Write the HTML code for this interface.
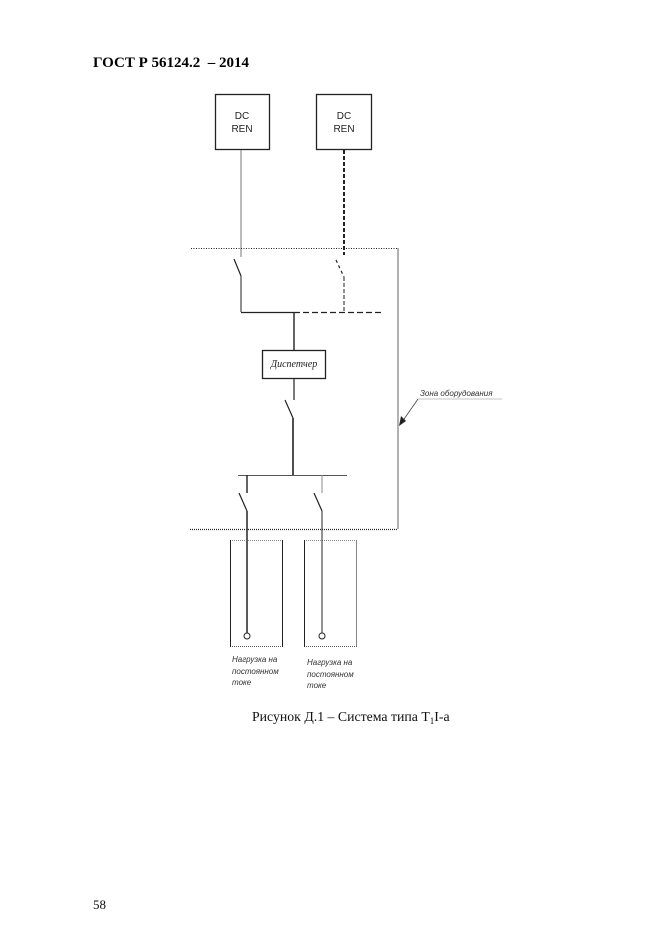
<!DOCTYPE html>
<html><head><meta charset="utf-8"><style>
html,body{margin:0;padding:0;background:#fff;}
svg{display:block;}
</style></head><body>
<svg width="661" height="936" viewBox="0 0 661 936" xmlns="http://www.w3.org/2000/svg" font-family="Liberation Sans, sans-serif">
<text x="93" y="67" font-family="Liberation Serif, serif" font-weight="bold" font-size="15">ГОСТ Р 56124.2&#160; – 2014</text>
<g fill="none" stroke="#222">
<rect x="215.5" y="94.5" width="54" height="55" stroke-width="1.3"/>
<rect x="316.5" y="94.5" width="55" height="55" stroke-width="1.3"/>
<line x1="241" y1="150" x2="241" y2="257" stroke="#777" stroke-width="1"/>
<line x1="344" y1="150" x2="344" y2="255" stroke-width="2" stroke-dasharray="4,2"/>
<line x1="191" y1="248.5" x2="398" y2="248.5" stroke-width="1" stroke-dasharray="1,1.5"/>
<line x1="398" y1="248" x2="398" y2="529" stroke="#666" stroke-width="1"/>
<line x1="234" y1="259" x2="241" y2="276" stroke-width="1.2"/>
<line x1="241" y1="276" x2="241" y2="312" stroke-width="1"/>
<line x1="336" y1="260" x2="344" y2="277" stroke-width="1.2" stroke-dasharray="3,3"/>
<line x1="344" y1="277" x2="344" y2="312" stroke-width="1" stroke-dasharray="4,2"/>
<line x1="241" y1="312.5" x2="294" y2="312.5" stroke-width="1.2"/>
<line x1="294" y1="312.5" x2="383" y2="312.5" stroke-width="1.2" stroke-dasharray="6,3"/>
<line x1="294" y1="312" x2="294" y2="350" stroke-width="1.4"/>
<rect x="262.5" y="350.5" width="63" height="28" stroke-width="1.3"/>
<line x1="294" y1="378" x2="294" y2="400" stroke-width="1.2"/>
<line x1="285" y1="400" x2="293" y2="418" stroke-width="1.2"/>
<line x1="293" y1="418" x2="293" y2="475" stroke-width="1.6"/>
<line x1="238" y1="475.5" x2="347" y2="475.5" stroke="#555" stroke-width="1"/>
<line x1="247" y1="475" x2="247" y2="493" stroke-width="1.4"/>
<line x1="239" y1="493" x2="247" y2="511" stroke-width="1.2"/>
<line x1="247" y1="511" x2="247" y2="633" stroke-width="1.5"/>
<line x1="322" y1="475" x2="322" y2="493" stroke="#888" stroke-width="1"/>
<line x1="314" y1="493" x2="322" y2="511" stroke-width="1.2"/>
<line x1="322" y1="511" x2="322" y2="633" stroke="#777" stroke-width="1.6"/>
<line x1="190" y1="529.5" x2="398" y2="529.5" stroke-width="1.2" stroke-dasharray="1,1"/>
<line x1="230" y1="540.5" x2="283" y2="540.5" stroke="#666" stroke-width="0.8" stroke-dasharray="1,1"/>
<line x1="230" y1="646.5" x2="283" y2="646.5" stroke-width="0.8" stroke-dasharray="1,1"/>
<line x1="230.5" y1="540" x2="230.5" y2="647" stroke-width="1"/>
<line x1="282.5" y1="540" x2="282.5" y2="647" stroke-width="1"/>
<line x1="304" y1="540.5" x2="357" y2="540.5" stroke="#666" stroke-width="0.8" stroke-dasharray="1,1"/>
<line x1="304" y1="646.5" x2="357" y2="646.5" stroke-width="0.8" stroke-dasharray="1,1"/>
<line x1="304.5" y1="540" x2="304.5" y2="647" stroke-width="1"/>
<line x1="356.5" y1="540" x2="356.5" y2="647" stroke="#666" stroke-width="0.8"/>
<circle cx="247" cy="636" r="3" stroke-width="1"/>
<circle cx="322" cy="636" r="3" stroke-width="1"/>
<line x1="418" y1="399" x2="502" y2="399" stroke="#888" stroke-width="0.6"/>
<line x1="418" y1="399" x2="402" y2="422" stroke="#444" stroke-width="0.8"/>
</g>
<polygon points="399,426 401,416 406,421" fill="#222"/>
<g font-size="10" fill="#222" text-anchor="middle">
<text x="242" y="119">DC</text><text x="242" y="132">REN</text>
<text x="344" y="119">DC</text><text x="344" y="132">REN</text>
</g>
<text x="294" y="367" font-family="Liberation Serif, serif" font-style="italic" font-size="10" text-anchor="middle" fill="#222">Диспетчер</text>
<text x="420" y="396" font-style="italic" font-size="8" fill="#333">Зона оборудования</text>
<g font-style="italic" font-size="8" fill="#333">
<text x="232" y="662">Нагрузка на</text><text x="232" y="674">постоянном</text><text x="232" y="685">токе</text>
<text x="307" y="665">Нагрузка на</text><text x="307" y="677">постоянном</text><text x="307" y="688">токе</text>
</g>
<text x="252" y="721" font-family="Liberation Serif, serif" font-size="13.8" fill="#111">Рисунок Д.1 – Система типа Т<tspan font-size="9" dy="3">1</tspan><tspan dy="-3">I-а</tspan></text>
<text x="93" y="909" font-family="Liberation Serif, serif" font-size="13" fill="#111">58</text>
</svg>
</body></html>
